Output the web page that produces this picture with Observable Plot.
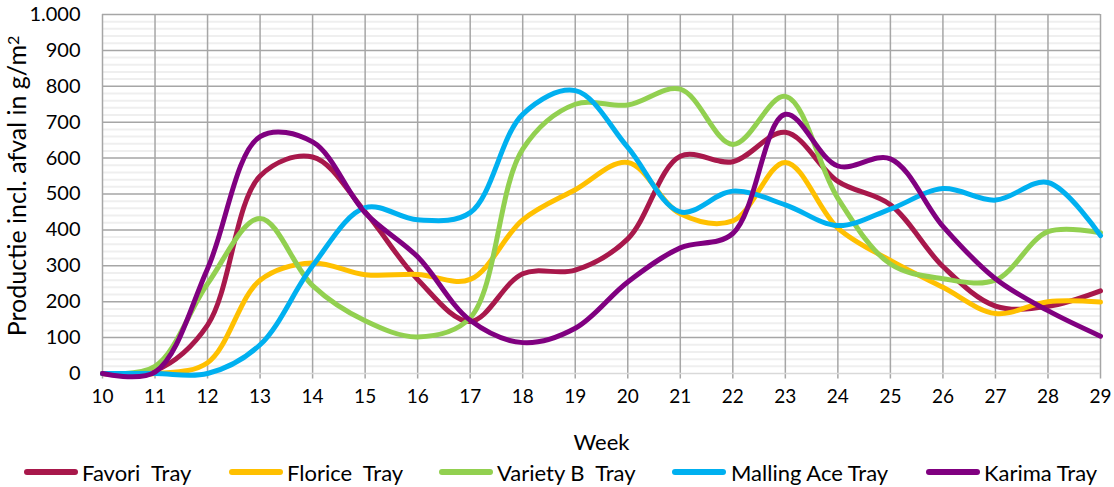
<!DOCTYPE html>
<html><head><meta charset="utf-8">
<script src="https://cdn.jsdelivr.net/npm/d3@7"></script>
<script src="https://cdn.jsdelivr.net/npm/@observablehq/plot@0.6"></script>
<style>
body{margin:0;background:#fff;font-family:Lato,"Open Sans",sans-serif;}
#chart svg{display:block;}
#legend{position:relative;height:32px;width:1114px;font-size:22px;color:#000;}
.sw{position:absolute;top:13px;}
.lt{position:absolute;top:4px;white-space:pre;line-height:27px;}
</style></head><body>
<div id="chart"></div>
<div id="legend"></div>
<script>
const weeks = [10,11,12,13,14,15,16,17,18,19,20,21,22,23,24,25,26,27,28,29];
const favori  = [0,8,135,550,603,450,262,145,278,288,375,605,590,672,535,470,298,188,187,230];
const florice = [0,0,30,260,308,275,276,262,428,512,588,445,425,588,405,315,240,167,200,199];
const varietyB= [0,20,250,432,245,147,102,155,625,750,748,792,638,772,488,305,264,260,395,392];
const malling = [0,0,0,80,300,462,428,448,722,788,630,450,508,470,412,458,515,483,532,384];
const karima  = [0,4,292,660,645,448,325,148,86,126,255,350,390,722,578,598,410,264,175,104];
const seriesNames = ["Favori  Tray","Florice  Tray","Variety B  Tray","Malling Ace Tray","Karima Tray"];
const seriesValues = [favori, florice, varietyB, malling, karima];
const colors = ["#A8184B","#FFC000","#92D050","#00B0F0","#800080"];
const yTicks = [0,100,200,300,400,500,600,700,800,900,1000];
const yTickLabels = ["0","100","200","300","400","500","600","700","800","900","1.000"];
const yTitle = "Productie incl. afval in g/m";
const xTitle = "Week";

const data = [];
seriesNames.forEach((s,i)=>weeks.forEach((w,j)=>data.push({series:s, week:w, value:seriesValues[i][j]})));
const minor = d3.range(0,1001,20).filter(v=>v%100!==0);

const plot = Plot.plot({
  width:1114, height:455,
  marginLeft:102, marginRight:14, marginTop:14, marginBottom:82,
  style:{fontFamily:'Lato,"Open Sans",sans-serif', color:"#000", background:"#fff"},
  x:{domain:[10,29]},
  y:{domain:[0,1000]},
  color:{domain:seriesNames, range:colors},
  marks:[
    Plot.ruleY(minor,{stroke:"#efefef", strokeWidth:2}),
    Plot.ruleY(yTicks.filter(d=>d>0),{stroke:"#a6a6a6", strokeWidth:1.5}),
    Plot.ruleX(weeks,{y1:-15, y2:1000, stroke:"#a6a6a6", strokeWidth:1.5}),
    Plot.ruleY([0],{stroke:"#d9d9d9", strokeWidth:1.5}),
    Plot.axisX({ticks:weeks, tickFormat:d=>String(d), tickSize:0, tickPadding:16, label:xTitle, labelAnchor:"center", labelArrow:"none", labelOffset:76, fontSize:19}),
    Plot.axisY({ticks:yTicks, tickFormat:d=>yTickLabels[yTicks.indexOf(d)], tickSize:0, tickPadding:22, label:yTitle, labelAnchor:"center", labelArrow:"none", labelOffset:94, fontSize:20}),
    Plot.line(data,{x:"week", y:"value", z:"series", stroke:"series", strokeWidth:5, curve:"catmull-rom"})
  ]
});
document.getElementById("chart").appendChild(plot);

const xl = plot.querySelector('[aria-label="x-axis label"] text');
if (xl) xl.style.fontSize = "22px";
const yl = plot.querySelector('[aria-label="y-axis label"] text');
if (yl) {
  yl.style.fontSize = "25px";
  yl.setAttribute("dx","8");
  const sup = document.createElementNS("http://www.w3.org/2000/svg","tspan");
  sup.setAttribute("dy","-0.45em");
  sup.setAttribute("font-size","16px");
  sup.textContent = "2";
  yl.appendChild(sup);
}

const legend = document.getElementById("legend");
const swX = [23,228,438,671,925];
const txX = [82,287,497,731,984];
seriesNames.forEach((s,i)=>{
  const sw = document.createElement("div");
  sw.className="sw"; sw.style.left=swX[i]+"px";
  sw.innerHTML = `<svg width="56" height="8" style="display:block"><line x1="4" y1="4" x2="52" y2="4" stroke="${colors[i]}" stroke-width="6" stroke-linecap="round"/></svg>`;
  legend.appendChild(sw);
  const t = document.createElement("div");
  t.className="lt"; t.style.left=txX[i]+"px"; t.textContent=s;
  legend.appendChild(t);
});
</script>
</body></html>
